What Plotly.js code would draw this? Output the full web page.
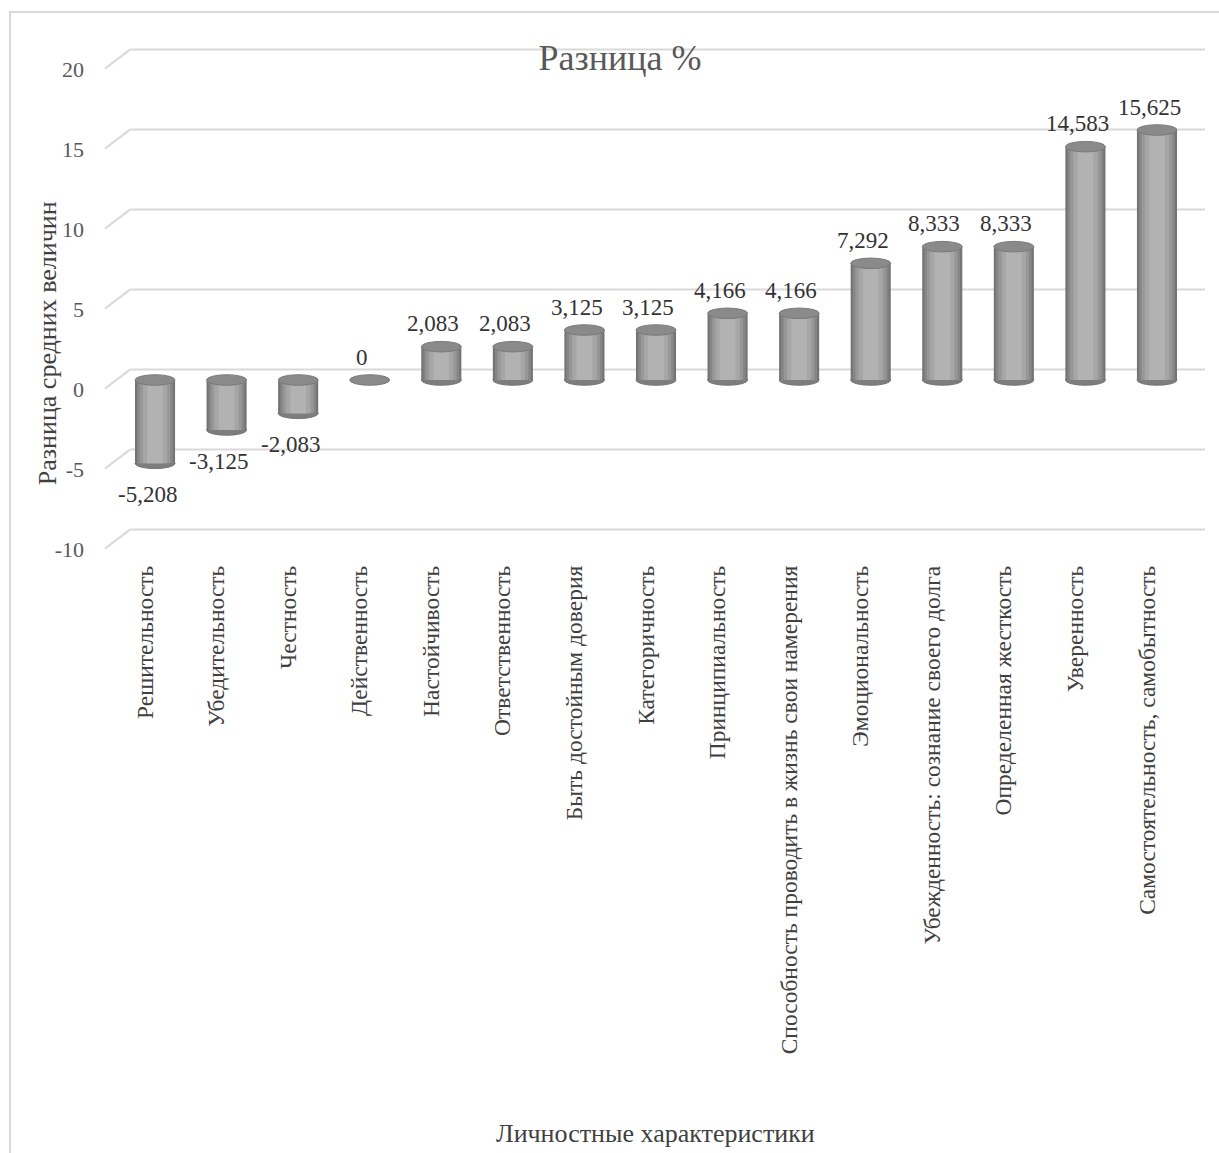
<!DOCTYPE html>
<html>
<head>
<meta charset="utf-8">
<script src="https://cdn.plot.ly/plotly-3.0.1.min.js"></script>
<style>
  html, body { margin: 0; padding: 0; background: #ffffff; }
  #frame { position: absolute; left: 9px; top: 11px; width: 1240px; height: 1180px; border: 2px solid #d9d9d9; box-sizing: border-box; }
  #chart { position: absolute; left: 0; top: 0; width: 1219px; height: 1153px; }
</style>
</head>
<body>
<div id="frame"></div>
<div id="chart"></div>
<script>
const categories = [
  "Решительность",
  "Убедительность",
  "Честность",
  "Действенность",
  "Настойчивость",
  "Ответственность",
  "Быть достойным доверия",
  "Категоричность",
  "Принципиальность",
  "Способность проводить в жизнь свои намерения",
  "Эмоциональность",
  "Убежденность: сознание своего долга",
  "Определенная жесткость",
  "Уверенность",
  "Самостоятельность, самобытность"
];
const values = [-5.208, -3.125, -2.083, 0, 2.083, 2.083, 3.125, 3.125, 4.166, 4.166, 7.292, 8.333, 8.333, 14.583, 15.625];
const valueLabels = ["-5,208", "-3,125", "-2,083", "0", "2,083", "2,083", "3,125", "3,125", "4,166", "4,166", "7,292", "8,333", "8,333", "14,583", "15,625"];
const yTicks = [-10, -5, 0, 5, 10, 15, 20];
const yTickLabels = ["-10", "-5", "0", "5", "10", "15", "20"];
const titleText = "Разница %";
const yTitleText = "Разница средних величин";
const xTitleText = "Личностные характеристики";

const idx = categories.map((c, i) => i);
const serif = "Liberation Serif";

// cylinder shading: overlaid bars, widest darkest
const shade = [
  {w: 0.56, c: "#747474"},
  {w: 0.50, c: "#868686"},
  {w: 0.43, c: "#979797"},
  {w: 0.34, c: "#a6a6a6"},
  {w: 0.22, c: "#b2b2b2"}
];
const traces = shade.map(s => ({
  type: "bar",
  x: idx,
  y: values,
  width: s.w,
  marker: {color: s.c, line: {width: 0}},
  hoverinfo: "skip",
  showlegend: false,
  yaxis: "y"
}));
// invisible trace to carry the front tick labels axis
traces.push({
  type: "scatter", x: [idx[0]], y: [yTicks[0]], mode: "markers",
  marker: {opacity: 0}, yaxis: "y2", xaxis: "x", showlegend: false, hoverinfo: "skip"
});

const shapes = [];
// 3D-like gridlines: back wall line + slanted floor part
const back = 0.65, front = -0.54, slantEnd = 0.0227;
yTicks.forEach(t => {
  shapes.push({type: "line", xref: "paper", yref: "y", x0: slantEnd, x1: 1, y0: t + back, y1: t + back,
    line: {color: "#d9d9d9", width: 2}, layer: "below"});
  shapes.push({type: "line", xref: "paper", yref: "y", x0: 0, x1: slantEnd, y0: t + front, y1: t + back,
    line: {color: "#d9d9d9", width: 2}, layer: "below"});
});
// cylinder caps
const halfW = 0.28, capH = 0.33;
values.forEach((v, i) => {
  const top = Math.max(v, 0), bot = Math.min(v, 0);
  if (v !== 0) {
    shapes.push({type: "circle", xref: "x", yref: "y", x0: i - halfW, x1: i + halfW, y0: bot - capH, y1: bot + capH,
      fillcolor: "#7d7d7d", line: {color: "#777777", width: 1}, layer: "between"});
  }
  shapes.push({type: "circle", xref: "x", yref: "y", x0: i - halfW, x1: i + halfW, y0: top - capH, y1: top + capH,
    fillcolor: "#8a8a8a", line: {color: "#7a7a7a", width: 1}, layer: "above"});
});

const annotations = values.map((v, i) => ({
  x: i - 0.11, y: v, xref: "x", yref: "y",
  text: valueLabels[i], showarrow: false,
  yshift: v < 0 ? -31 : 23,
  font: {family: serif, size: 23, color: "#333333"}
}));
annotations.push({
  xref: "paper", yref: "paper", x: -0.0527, y: 0.417, xanchor: "center", yanchor: "middle",
  text: yTitleText, textangle: -90,
  showarrow: false, font: {family: serif, size: 26, color: "#404040"}
});
annotations.push({
  xref: "paper", yref: "paper", x: 0.5, y: -1.102, xanchor: "center", yanchor: "middle",
  text: xTitleText,
  showarrow: false, font: {family: serif, size: 26, color: "#404040"}
});

const yr = [-11.25, 21.25];
const layout = {
  width: 1219, height: 1153,
  margin: {l: 105, r: 14, t: 40, b: 593},
  paper_bgcolor: "rgba(0,0,0,0)",
  plot_bgcolor: "rgba(0,0,0,0)",
  barmode: "overlay",
  showlegend: false,
  font: {family: serif},
  title: {text: titleText, x: 620 / 1219, xanchor: "center", xref: "container",
    y: 1 - 57 / 1153, yanchor: "middle", yref: "container",
    font: {family: serif, size: 36, color: "#595959"}},
  xaxis: {
    range: [-0.699, 14.671], showgrid: false, zeroline: false, showline: false,
    tickmode: "array", tickvals: idx.map(i => i - 0.14), ticktext: categories,
    tickangle: -90, ticks: "", tickfont: {family: serif, size: 23.5, color: "#404040"}
  },
  yaxis: {range: yr, showgrid: false, zeroline: false, showline: false, showticklabels: false},
  yaxis2: {
    overlaying: "y", side: "left", range: [yr[0] + 0.6, yr[1] + 0.6],
    tickmode: "array", tickvals: yTicks, ticktext: yTickLabels,
    showgrid: false, zeroline: false, showline: false, ticks: "", ticklabelstandoff: 20,
    tickfont: {family: serif, size: 22, color: "#595959"}
  },
  shapes: shapes,
  annotations: annotations
};
Plotly.newPlot("chart", traces, layout, {displayModeBar: false, staticPlot: true});
</script>
</body>
</html>
